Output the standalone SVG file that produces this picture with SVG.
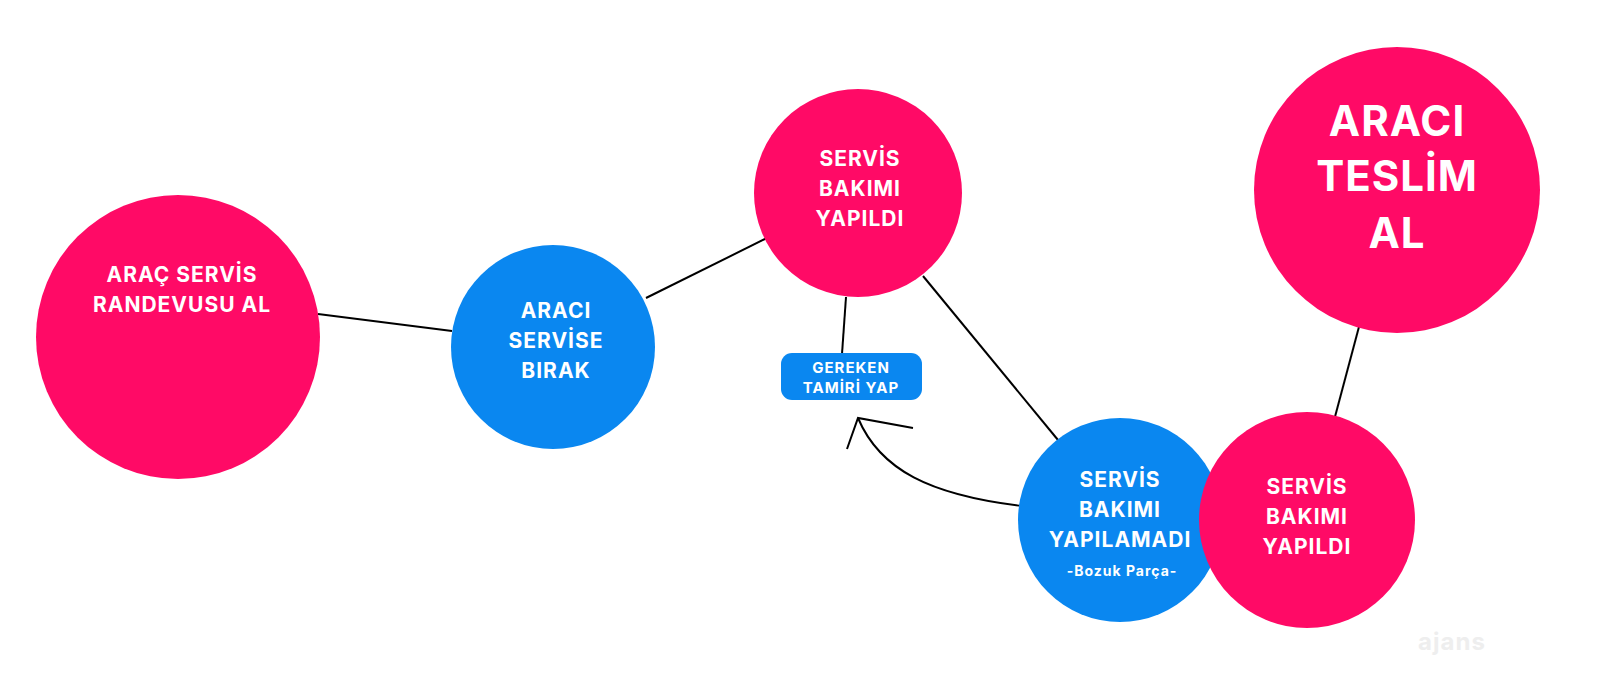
<svg xmlns="http://www.w3.org/2000/svg" width="1600" height="684" viewBox="0 0 1600 684">
<style>
.p{fill:#ff0a66}.b{fill:#0a87f0}
text{font-family:Inter,"Open Sans","Liberation Sans",sans-serif;font-weight:700;fill:#fff;text-anchor:middle;letter-spacing:1px}
.c{stroke:#000;stroke-width:2;fill:none}
</style>
<rect width="1600" height="684" fill="#fff"/>
<g id="connectors">
<line class="c" x1="318" y1="314" x2="452" y2="331"/>
<line class="c" x1="646" y1="298" x2="767" y2="238"/>
<line class="c" x1="923" y1="276" x2="1058" y2="440"/>
<line class="c" x1="1360" y1="323" x2="1332" y2="428"/>
<path class="c" d="M846 297 L842 354"/>
<path class="c" d="M1022 506 C930 495 880 470 858 418"/>
<path class="c" d="M847 449 L858 418 L913 428"/>
</g>
<g id="n1"><circle class="p" cx="178" cy="337" r="142"/><text font-size="21"><tspan x="182" y="282">ARAÇ SERVİS</tspan><tspan x="182" y="312">RANDEVUSU AL</tspan></text></g>
<g id="n2"><circle class="b" cx="553" cy="347" r="102"/><text font-size="21"><tspan x="556" y="318">ARACI</tspan><tspan x="556" y="348">SERVİSE</tspan><tspan x="556" y="378">BIRAK</tspan></text></g>
<g id="n3"><circle class="p" cx="858" cy="193" r="104"/><text font-size="21"><tspan x="860" y="166">SERVİS</tspan><tspan x="860" y="196">BAKIMI</tspan><tspan x="860" y="226">YAPILDI</tspan></text></g>
<g id="n4"><rect class="b" x="781" y="353" width="141" height="47" rx="11"/><text font-size="15"><tspan x="851" y="373">GEREKEN</tspan><tspan x="851" y="393">TAMİRİ YAP</tspan></text></g>
<g id="n5"><circle class="p" cx="1397" cy="190" r="143"/><text font-size="42" letter-spacing="3"><tspan x="1397" y="136">ARACI</tspan><tspan x="1397" y="191">TESLİM</tspan><tspan x="1397" y="248">AL</tspan></text></g>
<g id="n6"><circle class="b" cx="1120" cy="520" r="102"/><text font-size="21"><tspan x="1120" y="487">SERVİS</tspan><tspan x="1120" y="517">BAKIMI</tspan><tspan x="1120" y="547">YAPILAMADI</tspan></text><text x="1122" y="576" font-size="14" font-weight="600">-Bozuk Parça-</text></g>
<g id="n7"><circle class="p" cx="1307" cy="520" r="108"/><text font-size="21"><tspan x="1307" y="494">SERVİS</tspan><tspan x="1307" y="524">BAKIMI</tspan><tspan x="1307" y="554">YAPILDI</tspan></text></g>
<text x="1452" y="650" font-size="24" font-weight="400" style="fill:#eee" letter-spacing="0">ajans</text>
</svg>
